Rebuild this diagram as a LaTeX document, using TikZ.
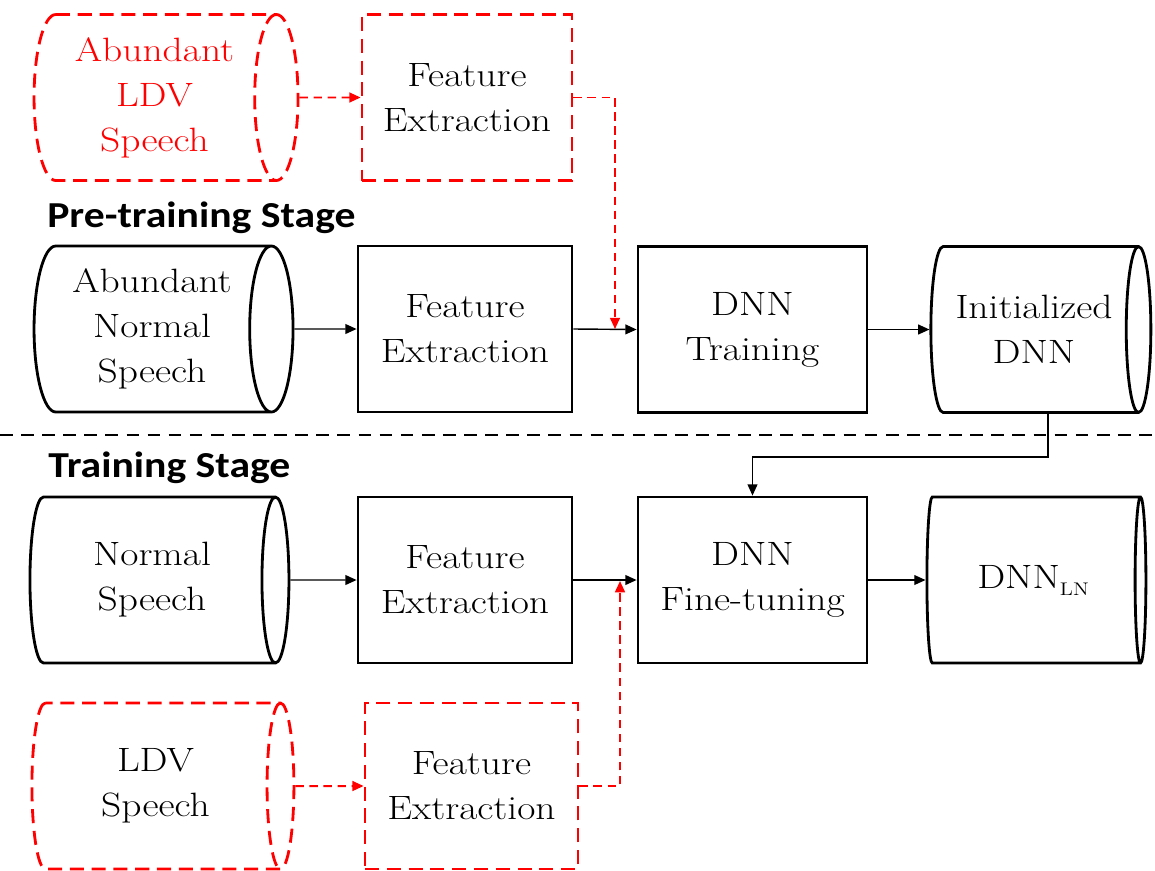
\documentclass[tikz,border=0pt]{standalone}
\usepackage{fontspec}
\newfontfamily\headfont{Carlito}[FakeStretch=1.14]
\newfontfamily\bodyfont{Latin Modern Roman}[FakeStretch=1.17]
\usetikzlibrary{shapes.geometric,arrows.meta}
\newcommand{\bodytext}{\bodyfont\fontsize{24}{32}\selectfont}
\begin{document}
\begin{tikzpicture}[x=0.025cm,y=-0.025cm,
  stagebox/.style={draw, line width=2pt, align=center, font=\bodytext,
    inner sep=0pt, minimum width={#1*0.025cm}, minimum height={166*0.025cm}},
  stagebox/.default=214,
  % the cylinder's minimum height runs along its axis; its node centre
  % sits half an end radius left of the middle of the outline
  store/.style={cylinder, shape border rotate=0, aspect=0.36, draw,
    line width=2pt, align=center, font=\bodytext, inner sep=0pt,
    minimum height={#1*0.025cm}, minimum width={166*0.025cm}},
  store/.default=259,
  ldv/.style={draw=red, dash pattern=on 10pt off 5.5pt},
  flow/.style={-{Triangle[length=8pt,width=7pt]}, line width=1pt},
  ldvflow/.style={flow, draw=red, line width=1.4pt, dash pattern=on 6pt off 4pt},
  heading/.style={anchor=base west, inner sep=0pt,
    font=\headfont\bfseries\fontsize{26}{30}\selectfont}]
\useasboundingbox (0,0) rectangle (1155,870);

% LDV branch of the pre-training stage
\node[store=264, ldv, text=red] (ldvA) at (154.5,97.5) {Abundant\\LDV\\Speech};
\node[stagebox=210, ldv] (feLdvA) at (467,97.5) {Feature\\Extraction};

\node[heading] (hPre) at (47,227) {Pre-training Stage};

% pre-training stage
\node[store] (normA) at (152,329) {Abundant\\Normal\\Speech};
\node[stagebox] (feA) at (465,329) {Feature\\Extraction};
\node[stagebox=229] (train) at (752.5,329.5) {DNN\\Training};
\node[store=220] (init) at (1034,329.5) {Initialized\\DNN};

% stage separator
\coordinate (sepL) at (0,435);
\coordinate (sepR) at (1155,435);
\draw[line width=2pt, dash pattern=on 9pt off 6pt] (sepL) -- (sepR);

\node[heading] (hTrain) at (48,477) {Training Stage};

% training stage
\node[store] (normB) at (152,580) {Normal\\Speech};
\node[stagebox] (feB) at (465,580) {Feature\\Extraction};
\node[stagebox=229] (fine) at (752.5,580) {DNN\\Fine-tuning};
\node[store=219] (final) at (1033,580)
  {DNN\raisebox{-5pt}{\fontsize{13}{13}\selectfont LN}};

% LDV branch of the training stage
\node[store=262, ldv] (ldvB) at (155.5,786) {LDV\\Speech};
\node[stagebox=213, ldv] (feLdvB) at (471.5,786) {Feature\\Extraction};

% junction points on the feature-to-DNN connectors
\coordinate (jA) at (615,329);
\coordinate (jB) at (620,581);

% connectors
\draw[ldvflow] (ldvA.east) -- (feLdvA.west);
\draw[ldvflow] (feLdvA.east) -| (jA);
\draw[flow] (normA.east) -- (feA.west);
\draw[flow] (feA.east) -- (train.west);
\draw[flow] (train.east) -- (init.west);
\draw[flow] (init.south) ++(14,0) -- ++(0,43) -| (fine.north);
\draw[flow] (normB.east) -- (feB.west);
\draw[flow] (feB.east) -- (fine.west);
\draw[flow] (fine.east) -- (final.west);
\draw[ldvflow] (ldvB.east) -- (feLdvB.west);
\draw[ldvflow] (feLdvB.east) -| (jB);
\end{tikzpicture}
\end{document}
